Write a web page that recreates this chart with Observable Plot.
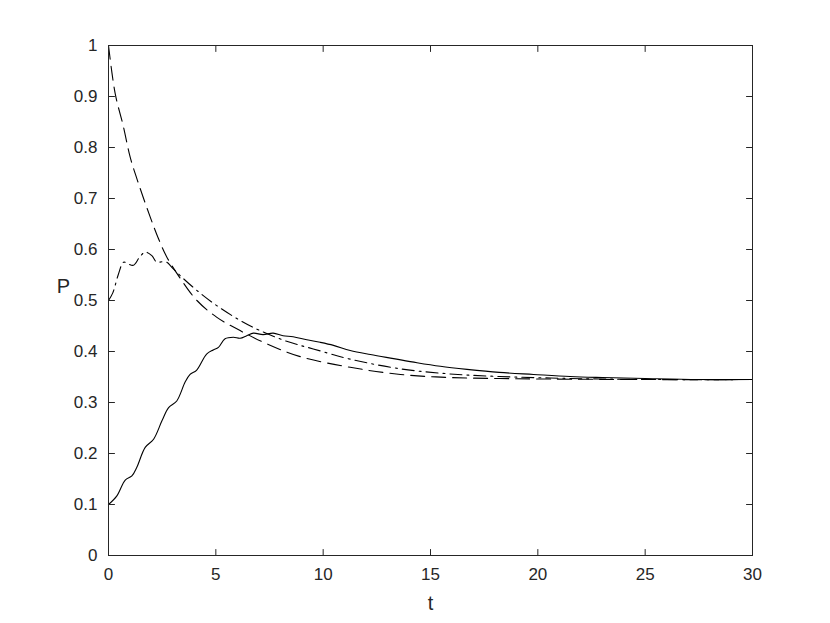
<!DOCTYPE html>
<html>
<head>
<meta charset="utf-8">
<script src="https://cdn.jsdelivr.net/npm/d3@7"></script>
<script src="https://cdn.jsdelivr.net/npm/@observablehq/plot@0.6"></script>
<style>
  html, body { margin: 0; padding: 0; background: #fff; }
</style>
</head>
<body>
<div id="chart"></div>
<script>
// Solid curve (starts at 0.1)
const tSolid = [0, 0.39, 0.78, 1.09, 1.32, 1.71, 2.1, 2.49, 2.8, 3.18, 3.57, 3.8, 4.1, 4.57, 4.88, 5.12, 5.43, 5.82, 6.13, 6.44, 6.75, 7.2, 7.67, 8.13, 8.6, 9.24, 9.86, 10.48, 11.26, 12.2, 13.28, 14.37, 15.46, 16.7, 18.2, 19.8, 21.5, 23, 25, 27.5, 30];
const pSolid = [0.100, 0.117, 0.148, 0.156, 0.173, 0.212, 0.228, 0.264, 0.290, 0.303, 0.340, 0.355, 0.363, 0.395, 0.403, 0.408, 0.425, 0.428, 0.426, 0.431, 0.436, 0.433, 0.436, 0.431, 0.429, 0.423, 0.418, 0.412, 0.402, 0.394, 0.386, 0.378, 0.371, 0.365, 0.359, 0.355, 0.351, 0.349, 0.347, 0.345, 0.345];

// Dash-dot curve (starts at 0.5)
const tDashDot = [0, 0.2, 0.45, 0.7, 0.9, 1.16, 1.45, 1.71, 2.02, 2.25, 2.5, 2.72, 2.95, 3.41, 4.11, 5.04, 6.13, 7.06, 8.3, 9.54, 11.26, 13.6, 15.9, 18.2, 20.6, 23, 26, 30];
const pDashDot = [0.500, 0.515, 0.550, 0.575, 0.572, 0.569, 0.585, 0.595, 0.588, 0.575, 0.576, 0.575, 0.565, 0.546, 0.520, 0.490, 0.461, 0.441, 0.420, 0.405, 0.385, 0.366, 0.356, 0.351, 0.348, 0.346, 0.345, 0.345];

// Dashed curve (starts at 1)
const tDashed = [0, 0.31, 0.7, 1.01, 1.4, 1.94, 2.33, 2.72, 3.35, 4.12, 5.05, 6.13, 7.38, 8.93, 11.26, 13.6, 15.9, 18.2, 20.6, 25, 30];
const pDashed = [1.000, 0.906, 0.840, 0.781, 0.729, 0.664, 0.621, 0.585, 0.543, 0.500, 0.467, 0.441, 0.415, 0.390, 0.369, 0.355, 0.349, 0.347, 0.346, 0.345, 0.345];

const xTicks = [0, 5, 10, 15, 20, 25, 30];
const yTicks = [0, 0.1, 0.2, 0.3, 0.4, 0.5, 0.6, 0.7, 0.8, 0.9, 1];
const yTickLabels = ["0", "0.1", "0.2", "0.3", "0.4", "0.5", "0.6", "0.7", "0.8", "0.9", "1"];
const xMin = 0, xMax = 30, yMin = 0, yMax = 1;

const toRows = (ts, ps) => ts.map((t, i) => ({t, p: ps[i]}));
const solid = toRows(tSolid, pSolid);
const dashDot = toRows(tDashDot, pDashDot);
const dashed = toRows(tDashed, pDashed);

const ink = "#262626";
const font = "Liberation Sans, Arial, Helvetica, sans-serif";

// a plain line tick shape for the vector mark
const tickShape = {draw(context, l) { context.moveTo(0, 0); context.lineTo(0, -l); }};
const tick = (data, opts) => Plot.vector(data, {length: 6, anchor: "start", shape: tickShape, stroke: ink, strokeWidth: 1, ...opts});

const chart = Plot.plot({
  width: 830,
  height: 623,
  marginLeft: 108,
  marginRight: 78,
  marginTop: 45,
  marginBottom: 68,
  style: {fontFamily: font, fontSize: "17px", color: ink, background: "#fff"},
  x: {domain: [xMin, xMax]},
  y: {domain: [yMin, yMax]},
  marks: [
    Plot.line(dashed, {x: "t", y: "p", stroke: "black", strokeWidth: 1.1, strokeDasharray: "14,7", curve: "catmull-rom"}),
    Plot.line(dashDot, {x: "t", y: "p", stroke: "black", strokeWidth: 1.1, strokeDasharray: "12,5,2,5", curve: "catmull-rom"}),
    Plot.line(solid, {x: "t", y: "p", stroke: "black", strokeWidth: 1.1, curve: "catmull-rom"}),
    Plot.frame({stroke: ink, strokeWidth: 1}),
    // inward ticks on all four sides
    tick(xTicks, {x: d => d, y: () => yMin, rotate: 0}),
    tick(xTicks, {x: d => d, y: () => yMax, rotate: 180}),
    tick(yTicks, {x: () => xMin, y: d => d, rotate: 90}),
    tick(yTicks, {x: () => xMax, y: d => d, rotate: 270}),
    Plot.axisX({anchor: "bottom", ticks: xTicks, tickSize: 0, tickPadding: 12, fill: ink, fontSize: 17, label: null}),
    Plot.axisY({anchor: "left", ticks: yTicks, tickSize: 0, tickPadding: 11, fill: ink, fontSize: 17,
      tickFormat: (d) => yTickLabels[yTicks.indexOf(d)] ?? String(d), label: null}),
    Plot.text(["t"], {frameAnchor: "bottom", dy: 54, fontSize: 20, fill: ink}),
    Plot.text(["P"], {frameAnchor: "left", dx: -45, dy: -14, fontSize: 20, fill: ink, textAnchor: "middle"})
  ]
});
document.getElementById("chart").appendChild(chart);
</script>
</body>
</html>
